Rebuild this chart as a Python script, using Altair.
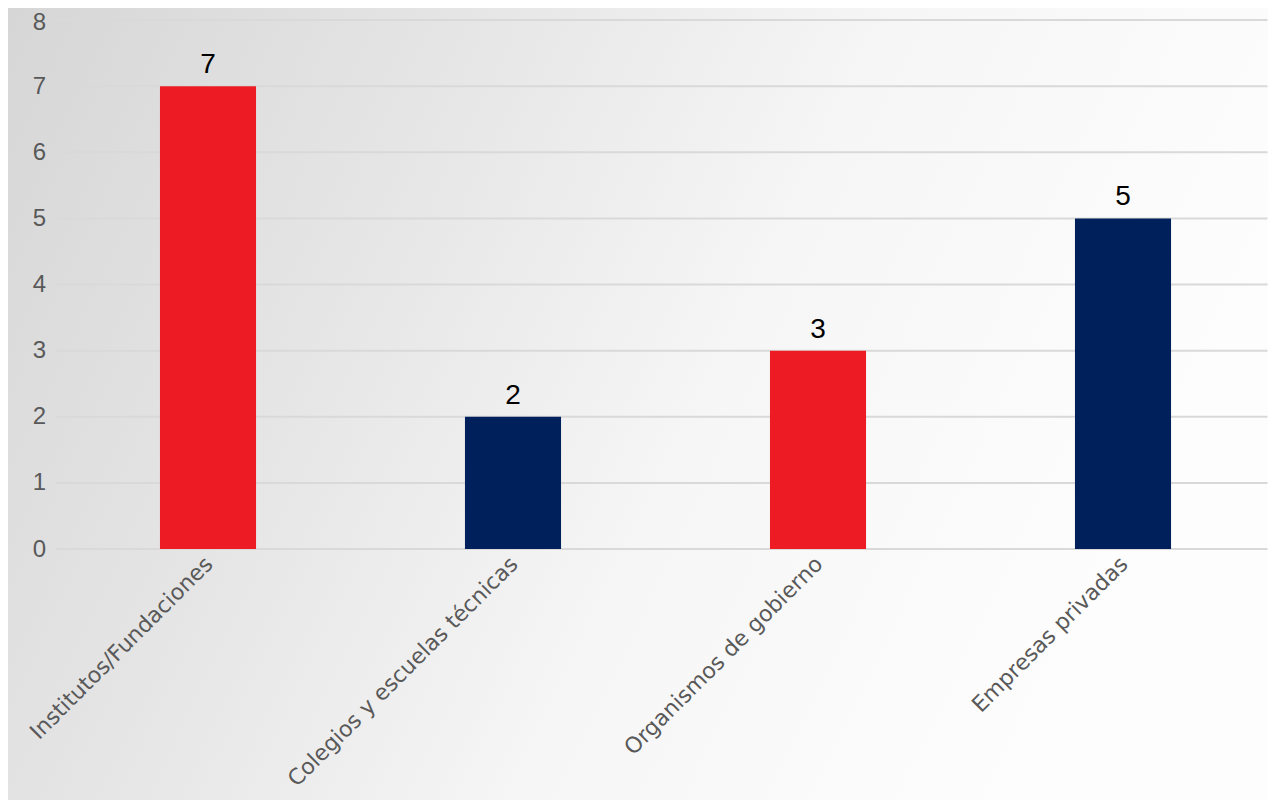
import altair as alt
import pandas as pd

categories = ["Institutos/Fundaciones", "Colegios y escuelas técnicas",
              "Organismos de gobierno", "Empresas privadas"]
values = [7, 2, 3, 5]
y_ticks = [0, 1, 2, 3, 4, 5, 6, 7, 8]
bar_colors = ["#ED1C24", "#00205B", "#ED1C24", "#00205B"]

df = pd.DataFrame({"cat": categories, "val": values})
grid_df = pd.DataFrame({"tick": y_ticks})

W, H = 1212, 529

y_scale = alt.Scale(domain=[0, 8], nice=False)

bg = alt.Chart(df).mark_rect(
    color=alt.Gradient(
        gradient="linear", x1=0, y1=0, x2=1, y2=0.3,
        stops=[alt.GradientStop(color="#D6D6D6", offset=0),
               alt.GradientStop(color="#E6E6E6", offset=0.35),
               alt.GradientStop(color="#F6F6F6", offset=0.65),
               alt.GradientStop(color="#FDFDFD", offset=1)]),
).encode(x=alt.value(-48), x2=alt.value(W), y=alt.value(-12), y2=alt.value(H + 251))

grid = alt.Chart(grid_df).mark_rule(color="#D9D9D9", strokeWidth=2).encode(
    y=alt.Y("tick:Q", scale=y_scale)
)

x_enc = alt.X("cat:N", sort=categories, title=None,
              scale=alt.Scale(range=[0, 1220], paddingInner=0.685, paddingOuter=0.3425),
              axis=alt.Axis(labelAngle=-45, labelFont="DejaVu Sans", labelFontSize=22,
                            labelColor="#595959", ticks=False, domain=False, grid=False,
                            labelPadding=4, labelOffset=-6, labelLimit=500, zindex=1))
y_enc = alt.Y("val:Q", title=None, scale=y_scale,
              axis=alt.Axis(values=y_ticks, format="d", labelFont="Liberation Sans",
                            labelFontSize=24, labelColor="#595959", ticks=False,
                            domain=False, grid=False, labelPadding=10, zindex=1,
                            labelOffset={"condition": {"test": "datum.value == 8", "value": 2},
                                         "value": 0}))

bars = alt.Chart(df).mark_bar().encode(
    x=x_enc, y=y_enc,
    color=alt.Color("cat:N", scale=alt.Scale(domain=categories, range=bar_colors), legend=None),
)

labels = alt.Chart(df).mark_text(
    baseline="bottom", dy=-7, font="Liberation Sans", fontSize=28, color="#000000"
).encode(x=alt.X("cat:N", sort=categories), y="val:Q", text="val:Q")

chart = alt.layer(bg, grid, bars, labels).properties(
    width=W, height=H,
    autosize=alt.AutoSizeParams(type="none"),
    padding={"left": 47.5, "top": 12, "right": 0, "bottom": 251},
).configure_view(stroke=None)

chart.save("out.html", embed_options={"renderer": "svg", "actions": False})
